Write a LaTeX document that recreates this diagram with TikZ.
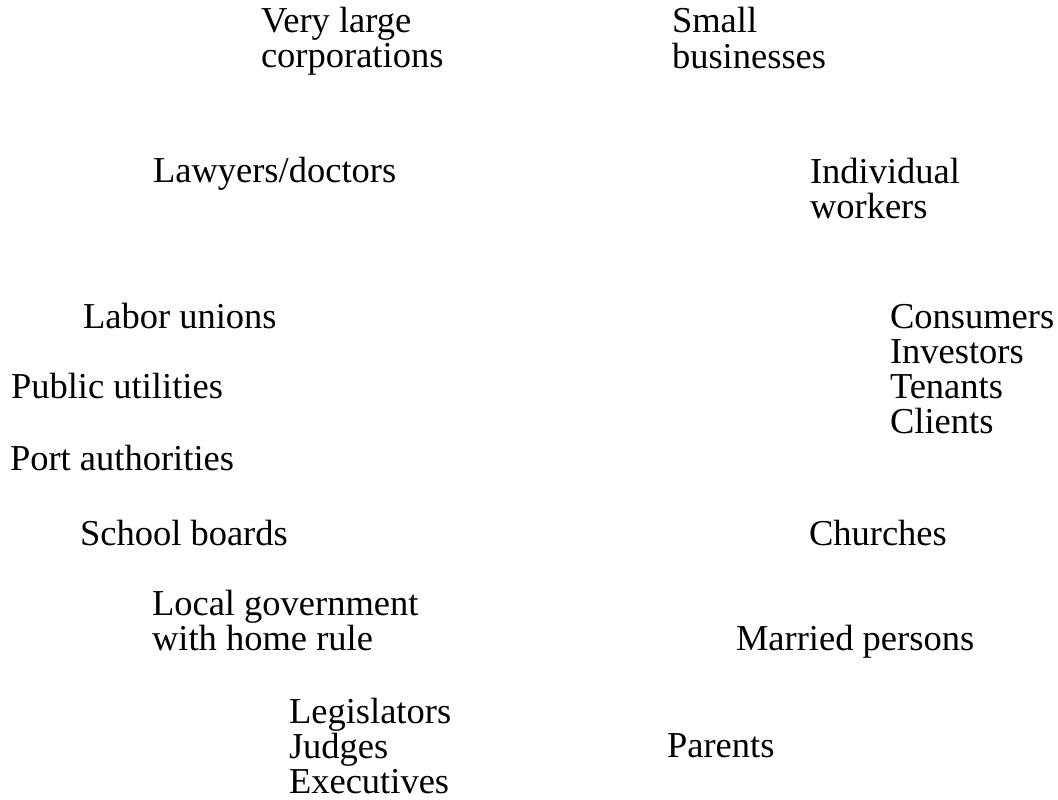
\documentclass[tikz,border=0pt]{standalone}
\usepackage{fontspec}
\setmainfont{Liberation Serif}
\begin{document}
\begin{tikzpicture}[x=1pt,y=1pt,
  lbl/.style={anchor=base west,inner sep=0pt,outer sep=0pt,
    font=\fontsize{36.5}{35}\selectfont}]
\useasboundingbox (0,0) rectangle (1058,-800);
\newcommand{\lines}[1]{\begin{tabular}[t]{@{}l@{}}#1\end{tabular}}
\node[lbl] (vlc) at (261,-33) {\lines{Very large\\corporations}};
\node[lbl] (sb) at (672,-33) {\lines{Small\\businesses}};
\node[lbl] (ld) at (153,-182) {Lawyers/doctors};
\node[lbl] (iw) at (810,-183) {\lines{Individual\\workers}};
\node[lbl] (lu) at (83,-328) {Labor unions};
\node[lbl] (cons) at (890,-328) {\lines{Consumers\\Investors\\Tenants\\Clients}};
\node[lbl] (pu) at (11,-398) {Public utilities};
\node[lbl] (pa) at (10,-470) {Port authorities};
\node[lbl] (sbo) at (80,-545) {School boards};
\node[lbl] (ch) at (809,-545) {Churches};
\node[lbl] (lg) at (152,-615) {\lines{Local government\\with home rule}};
\node[lbl] (mp) at (736,-650) {Married persons};
\node[lbl] (leg) at (289,-723) {\lines{Legislators\\Judges\\Executives}};
\node[lbl] (par) at (667,-757) {Parents};
\end{tikzpicture}
\end{document}
